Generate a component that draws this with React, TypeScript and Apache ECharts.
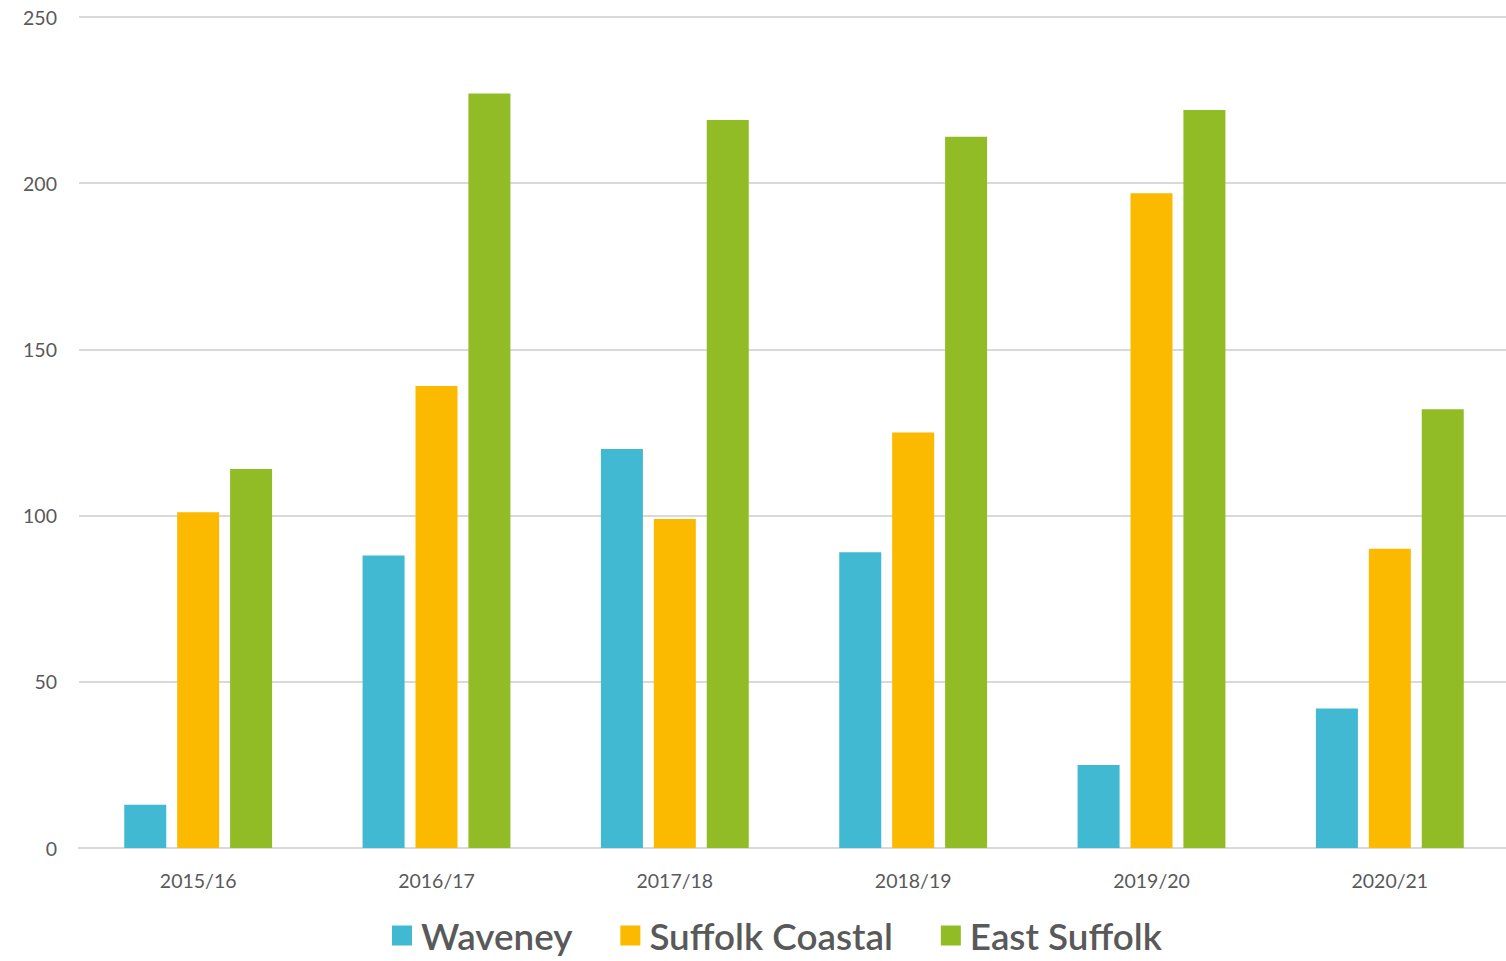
import React, { useEffect, useRef } from "react";
import * as echarts from "echarts";

const categories = ["2015/16", "2016/17", "2017/18", "2018/19", "2019/20", "2020/21"];
const waveney = [13, 88, 120, 89, 25, 42];
const suffolkCoastal = [101, 139, 99, 125, 197, 90];
const eastSuffolk = [114, 227, 219, 214, 222, 132];
const yTicks = { min: 0, max: 250, interval: 50 };

const FONT = "Lato, 'Open Sans', sans-serif";

export default function App() {
  const ref = useRef<HTMLDivElement>(null);
  useEffect(() => {
    if (!ref.current) return;
    const chart = echarts.init(ref.current, undefined, { renderer: "svg" });
    const barStyle = (color: string) => ({ color });
    chart.setOption({
      animation: false,
      grid: { left: 79, right: 0, top: 17, bottom: 113, containLabel: false },
      legend: {
        bottom: 2,
        left: 387,
        itemWidth: 20,
        itemHeight: 20,
        itemGap: 48,
        icon: "rect",
        textStyle: { fontFamily: FONT, fontSize: 36.8, color: "#595959", fontWeight: 600, padding: [0, 0, 0, 4] },
      },
      xAxis: {
        type: "category",
        data: categories,
        axisTick: { show: false },
        axisLine: { lineStyle: { color: "#d9d9d9", width: 2 } },
        axisLabel: { fontFamily: FONT, fontSize: 19.5, color: "#595959", margin: 22 },
      },
      yAxis: {
        type: "value",
        min: yTicks.min,
        max: yTicks.max,
        interval: yTicks.interval,
        axisLine: { show: false },
        axisTick: { show: false },
        axisLabel: { fontFamily: FONT, fontSize: 19.5, color: "#595959", margin: 22 },
        splitLine: { lineStyle: { color: "#d9d9d9", width: 2 } },
      },
      series: [
        { name: "Waveney", type: "bar", data: waveney, itemStyle: barStyle("#41b9d3"), barWidth: 42, barGap: "26%" },
        { name: "Suffolk Coastal", type: "bar", data: suffolkCoastal, itemStyle: barStyle("#fbb900"), barWidth: 42, barGap: "26%" },
        { name: "East Suffolk", type: "bar", data: eastSuffolk, itemStyle: barStyle("#92bc25"), barWidth: 42, barGap: "26%" },
      ],
    });
    return () => chart.dispose();
  }, []);
  return (
    <div style={{ width: 1506, height: 961, position: "absolute", left: 0, top: 0, overflow: "hidden" }}>
      <div ref={ref} style={{ width: 1509, height: 961, position: "absolute", left: 0, top: 0 }} />
    </div>
  );
}
